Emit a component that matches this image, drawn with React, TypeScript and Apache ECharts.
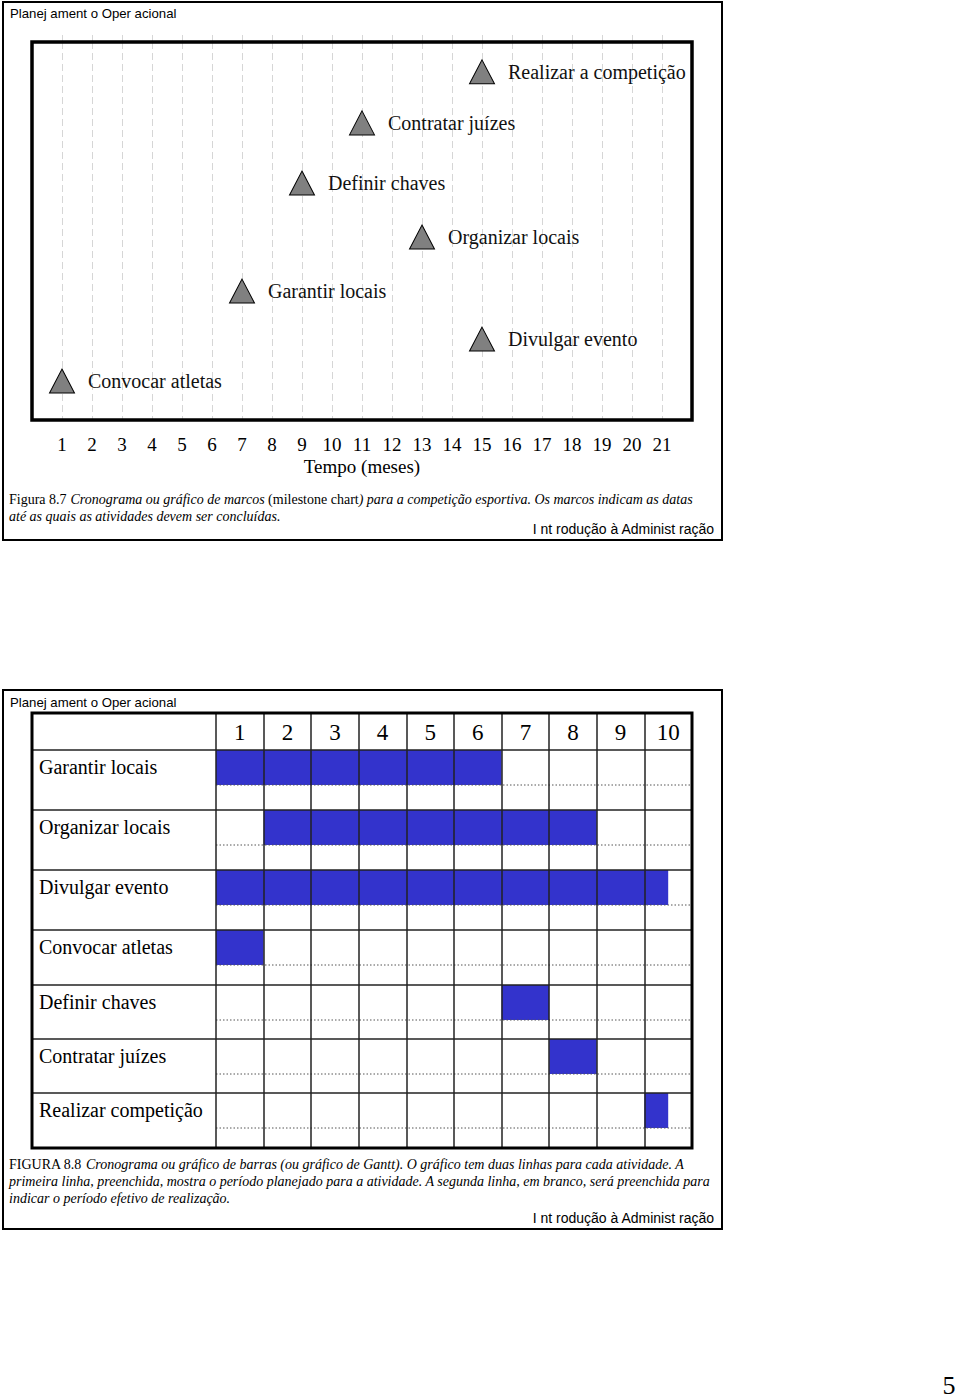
import React, { useEffect, useRef } from 'react';
import * as echarts from 'echarts';

// ---------- Data: milestone chart (Figura 8.7) ----------
const milestoneNames = [
  'Realizar a competição',
  'Contratar juízes',
  'Definir chaves',
  'Organizar locais',
  'Garantir locais',
  'Divulgar evento',
  'Convocar atletas',
];
const milestoneMonths = [15, 11, 9, 13, 7, 15, 1];
const milestoneLevels = [92.1, 78.6, 62.7, 48.4, 34.1, 21.4, 10.3];
const milestoneTicks = [1, 2, 3, 4, 5, 6, 7, 8, 9, 10, 11, 12, 13, 14, 15, 16, 17, 18, 19, 20, 21];

// ---------- Data: Gantt chart (Figura 8.8) ----------
const ganttMonths = ['1', '2', '3', '4', '5', '6', '7', '8', '9', '10'];
const activities = [
  'Garantir locais',
  'Organizar locais',
  'Divulgar evento',
  'Convocar atletas',
  'Definir chaves',
  'Contratar juízes',
  'Realizar competição',
];
const planStart = [0, 1, 0, 0, 6, 7, 9];
const planEnd = [6, 8, 9.5, 1, 7, 8, 9.5];

// ---------- Layout / style constants ----------
const SERIF = '"Liberation Serif", "Times New Roman", serif';
const SANS = '"Liberation Sans", Arial, sans-serif';
const ROW_HEIGHTS = [60, 60, 60, 55, 54, 54, 55];
const BAR_H = 35;
const LABEL_COL = 184;
const BAR_COLOR = '#3333CC';
const LINE_COLOR = '#222';
const GRID_DASH = '#d6d6d6';

export default function App() {
  const ref = useRef<HTMLDivElement>(null);

  useEffect(() => {
    document.body.style.margin = '0';
    const chart = echarts.init(ref.current as HTMLDivElement, null, { renderer: 'svg' });

    const rowTops: number[] = [];
    let acc = 0;
    ROW_HEIGHTS.forEach((h) => {
      rowTops.push(acc);
      acc += h;
    });
    const totalH = acc;

    const ganttData = activities.map((name, i) => ({
      name,
      value: [planStart[i], rowTops[i], planEnd[i], i],
    }));

    const milestoneData = milestoneNames.map((name, i) => ({
      name,
      value: [milestoneMonths[i], milestoneLevels[i]],
    }));

    const serifRich = (size: number) => ({
      n: { fontFamily: SERIF, fontSize: size, fill: '#000', color: '#000' },
      i: { fontFamily: SERIF, fontSize: size, fontStyle: 'italic', fill: '#000', color: '#000' },
    });

    const text = (x: number, y: number, str: string, opts: any = {}) => ({
      type: 'text',
      x,
      y,
      z: 100,
      silent: true,
      style: {
        text: str,
        fontFamily: opts.fontFamily || SANS,
        fontSize: opts.fontSize || 14,
        fontStyle: opts.fontStyle || 'normal',
        fill: '#000',
        align: opts.align || 'left',
        textAlign: opts.align || 'left',
        verticalAlign: 'middle',
        textVerticalAlign: 'middle',
        rich: opts.rich,
      },
    });

    const option: any = {
      animation: false,
      backgroundColor: '#fff',
      grid: [
        { left: 32, top: 42, width: 660, height: 378, show: false },
        { left: 216, top: 750, width: 476, height: totalH, show: false },
      ],
      xAxis: [
        {
          gridIndex: 0,
          type: 'value',
          min: 0,
          max: 22,
          interval: 1,
          position: 'bottom',
          axisLine: { show: false },
          axisTick: { show: false },
          axisLabel: {
            margin: 15,
            fontFamily: SERIF,
            fontSize: 19,
            color: '#000',
            formatter: (v: number) => (milestoneTicks.indexOf(v) >= 0 ? String(v) : ''),
          },
          splitLine: { show: true, lineStyle: { color: GRID_DASH, width: 1, type: [7, 4] } },
          name: 'Tempo (meses)',
          nameLocation: 'middle',
          nameGap: 37,
          nameTextStyle: { fontFamily: SERIF, fontSize: 19, color: '#000' },
        },
        {
          gridIndex: 1,
          type: 'value',
          min: 0,
          max: 10,
          interval: 1,
          z: 10,
          axisLine: { show: false },
          axisTick: { show: false },
          axisLabel: { show: false },
          splitLine: { show: true, lineStyle: { color: LINE_COLOR, width: 1.5 } },
        },
        {
          gridIndex: 1,
          type: 'category',
          data: ganttMonths,
          position: 'top',
          z: 10,
          axisLine: { show: false },
          axisTick: { show: true, length: 37, lineStyle: { color: LINE_COLOR, width: 1.5 } },
          axisLabel: { margin: 6, fontFamily: SERIF, fontSize: 23, color: '#000' },
          splitLine: { show: false },
        },
        {
          gridIndex: 0,
          type: 'value',
          min: 0,
          max: 22,
          interval: 1,
          position: 'top',
          axisLine: { show: false },
          axisLabel: { show: false },
          axisTick: {
            show: true,
            length: 7,
            customValues: milestoneTicks,
            lineStyle: { color: GRID_DASH, width: 1, type: [7, 4] },
          },
          splitLine: { show: false },
        },
      ],
      yAxis: [
        { gridIndex: 0, type: 'value', min: 0, max: 100, show: false, splitLine: { show: false } },
        { gridIndex: 1, type: 'value', min: 0, max: totalH, inverse: true, show: false, splitLine: { show: false } },
      ],
      series: [
        {
          type: 'scatter',
          xAxisIndex: 0,
          yAxisIndex: 0,
          symbol: 'triangle',
          symbolSize: [25, 24],
          silent: true,
          z: 5,
          data: milestoneData,
          itemStyle: { color: '#808080', borderColor: '#000', borderWidth: 1, opacity: 1 },
          label: {
            show: true,
            position: 'right',
            distance: 13,
            formatter: '{b}',
            fontFamily: SERIF,
            fontSize: 20,
            color: '#111',
          },
        },
        {
          type: 'custom',
          xAxisIndex: 1,
          yAxisIndex: 1,
          clip: false,
          silent: true,
          z: 2,
          data: ganttData,
          renderItem: (params: any, api: any) => {
            const start = api.value(0);
            const top = api.value(1);
            const end = api.value(2);
            const idx = api.value(3);
            const tl = api.coord([0, top]);
            const tr = api.coord([10, top]);
            const b0 = api.coord([start, top]);
            const b1 = api.coord([end, top + BAR_H]);
            const dl = api.coord([0, top + BAR_H]);
            return {
              type: 'group',
              children: [
                {
                  type: 'rect',
                  shape: { x: b0[0], y: b0[1], width: b1[0] - b0[0], height: b1[1] - b0[1] },
                  style: { fill: BAR_COLOR },
                },
                {
                  type: 'line',
                  shape: { x1: dl[0], y1: dl[1], x2: tr[0], y2: dl[1] },
                  style: { stroke: '#555', lineWidth: 1, lineDash: [1.5, 2] },
                },
                {
                  type: 'line',
                  shape: { x1: tl[0] - LABEL_COL, y1: tl[1], x2: tr[0], y2: tl[1] },
                  style: { stroke: LINE_COLOR, lineWidth: 1.5 },
                },
                {
                  type: 'text',
                  x: tl[0] - LABEL_COL + 7,
                  y: (tl[1] + dl[1]) / 2 - 1,
                  style: {
                    text: activities[idx],
                    fontFamily: SERIF,
                    fontSize: 20,
                    fill: '#000',
                    align: 'left',
                    verticalAlign: 'middle',
                  },
                },
              ],
            };
          },
        },
      ],
      graphic: [
        // slide 1 border
        {
          type: 'rect',
          z: 100,
          silent: true,
          shape: { x: 3, y: 2, width: 719, height: 538 },
          style: { fill: 'none', stroke: '#000', lineWidth: 2 },
        },
        // milestone chart frame
        {
          type: 'rect',
          z: 100,
          silent: true,
          shape: { x: 32, y: 42, width: 660, height: 378 },
          style: { fill: 'none', stroke: '#000', lineWidth: 3.5 },
        },
        // slide 2 border
        {
          type: 'rect',
          z: 100,
          silent: true,
          shape: { x: 3, y: 690, width: 719, height: 539 },
          style: { fill: 'none', stroke: '#000', lineWidth: 2 },
        },
        // gantt table frame
        {
          type: 'rect',
          z: 100,
          silent: true,
          shape: { x: 32, y: 713, width: 660, height: 435 },
          style: { fill: 'none', stroke: '#000', lineWidth: 3 },
        },
        text(10, 13, 'Planej ament o Oper acional', { fontSize: 13.2 }),
        text(10, 702, 'Planej ament o Oper acional', { fontSize: 13.2 }),
        text(714, 529, 'I nt rodução à Administ ração', { align: 'right' }),
        text(714, 1218, 'I nt rodução à Administ ração', { align: 'right' }),
        text(
          9,
          499,
          '{n|Figura 8.7} {i|Cronograma ou gráfico de marcos }{n|(milestone chart}{i|) para a competição esportiva. Os marcos indicam as datas}',
          { rich: serifRich(14) }
        ),
        text(9, 516, '{i|até as quais as atividades devem ser concluídas.}', { rich: serifRich(14) }),
        text(
          9,
          1164,
          '{n|FIGURA 8.8} {i|Cronograma ou gráfico de barras (ou gráfico de Gantt). O gráfico tem duas linhas para cada atividade. A}',
          { rich: serifRich(14) }
        ),
        text(
          9,
          1181,
          '{i|primeira linha, preenchida, mostra o período planejado para a atividade. A segunda linha, em branco, será preenchida para}',
          { rich: serifRich(14) }
        ),
        text(9, 1198, '{i|indicar o período efetivo de realização.}', { rich: serifRich(14) }),
        text(949, 1385, '5', { fontFamily: SERIF, fontSize: 26, align: 'center' }),
      ],
    };

    chart.setOption(option);
    return () => {
      chart.dispose();
    };
  }, []);

  return <div ref={ref} style={{ width: 960, height: 1398 }} />;
}
